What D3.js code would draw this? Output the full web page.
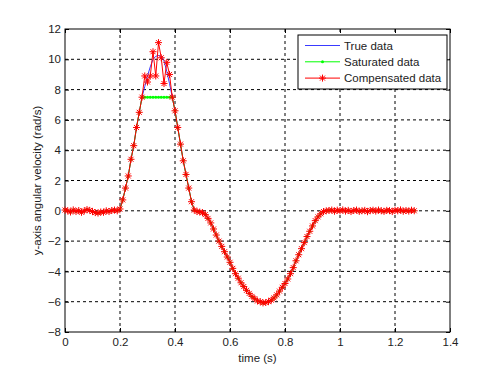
<!DOCTYPE html>
<html>
<head>
<meta charset="utf-8">
<script src="https://cdn.jsdelivr.net/npm/d3@7"></script>
<style>
  body { margin: 0; background: #fff; }
  svg { font-family: "Liberation Sans", Arial, sans-serif; }
  .axis text { font-size: 11.5px; fill: #222; }
  .axis line { stroke: #000; }
</style>
</head>
<body>
<svg id="chart"></svg>
<script>
// sampling: t = t0 + i * dt
const t0 = 0;
const dt = 0.01;

// measured (true) angular velocity, rad/s
const trueVals = [
  0.05, 0.00, -0.08, 0.06, -0.05, 0.02, -0.10, 0.00, 0.08, 0.03,
  -0.05, -0.12, -0.15, -0.08, -0.10, 0.00, -0.05, 0.02, 0.05, 0.00,
  0.12, 0.72, 1.50, 2.30, 3.40, 4.30, 5.50, 6.50, 7.50, 8.20,
  8.90, 9.50, 10.00, 10.20, 10.25, 10.20, 9.90, 9.20, 8.40, 7.50,
  6.60, 5.50, 4.40, 3.30, 2.40, 1.50, 0.60, 0.05, -0.05, -0.08,
  -0.12, -0.25, -0.50, -0.80, -1.20, -1.60, -2.00, -2.35, -2.70, -3.05,
  -3.40, -3.80, -4.15, -4.45, -4.75, -5.00, -5.25, -5.45, -5.65, -5.80,
  -5.95, -6.00, -6.08, -6.05, -6.00, -5.90, -5.75, -5.55, -5.30, -5.05,
  -4.80, -4.50, -4.15, -3.75, -3.30, -2.90, -2.50, -2.10, -1.70, -1.35,
  -1.00, -0.65, -0.40, -0.20, -0.05, 0.00, 0.02, 0.05, -0.03, 0.04,
  0.00, 0.06, -0.02, 0.03, -0.05, 0.02, 0.05, -0.04, 0.00, 0.03,
  -0.06, 0.02, 0.04, -0.02, 0.05, 0.00, -0.04, 0.03, 0.01, -0.05,
  0.04, 0.00, 0.06, -0.03, 0.02, -0.02, 0.04, 0.00
];

// indices of the saturated stretch
const peakStart = 28;
const satPeak  = [7.5, 7.5, 7.5, 7.5, 7.5, 7.5, 7.5, 7.5, 7.5, 7.5, 7.5, 7.5];
const compPeak = [7.5, 8.9, 8.5, 8.9, 10.5, 8.9, 11.1, 10.1, 8.4, 9.8, 9.0, 7.5];

const xTicks = [0, 0.2, 0.4, 0.6, 0.8, 1, 1.2, 1.4];
const yTicks = [-8, -6, -4, -2, 0, 2, 4, 6, 8, 10, 12];

const legendNames = ['True data', 'Saturated data', 'Compensated data'];
const colors = ['#3a3aff', '#00ff00', '#ff0000'];

const width = 498;
const height = 374;
const margin = { left: 65, right: 48, top: 29, bottom: 42 };
const innerWidth = width - margin.left - margin.right;
const innerHeight = height - margin.top - margin.bottom;

function withPeak(peak) {
  return trueVals.map(function(v, i) {
    const k = i - peakStart;
    return (k >= 0 && k < peak.length) ? peak[k] : v;
  });
}

const series = [trueVals, withPeak(satPeak), withPeak(compPeak)].map(function(vals) {
  return vals.map(function(v, i) { return { t: t0 + i * dt, v: v }; });
});

const svg = d3.select('#chart')
  .attr('width', width)
  .attr('height', height);

const g = svg.append('g')
  .attr('transform', 'translate(' + margin.left + ',' + margin.top + ')');

const x = d3.scaleLinear().domain([0, 1.4]).range([0, innerWidth]);
const y = d3.scaleLinear().domain([-8, 12]).range([innerHeight, 0]);

// grid
const grid = g.append('g').attr('class', 'grid');
grid.selectAll('line.gx')
  .data(xTicks.slice(1, -1))
  .enter().append('line')
  .attr('x1', function(d) { return x(d); })
  .attr('x2', function(d) { return x(d); })
  .attr('y1', 0).attr('y2', innerHeight)
  .attr('stroke', '#000').attr('stroke-dasharray', '3,3');
grid.selectAll('line.gy')
  .data(yTicks.slice(1, -1))
  .enter().append('line')
  .attr('y1', function(d) { return y(d); })
  .attr('y2', function(d) { return y(d); })
  .attr('x1', 0).attr('x2', innerWidth)
  .attr('stroke', '#000').attr('stroke-dasharray', '3,3');

// axes (ticks inward, like matlab)
g.append('g').attr('class', 'axis')
  .attr('transform', 'translate(0,' + innerHeight + ')')
  .call(d3.axisBottom(x).tickValues(xTicks).tickSizeInner(-4).tickSizeOuter(0).tickPadding(6)
    .tickFormat(d3.format('~g')));
g.append('g').attr('class', 'axis')
  .call(d3.axisTop(x).tickValues(xTicks).tickSizeInner(-4).tickSizeOuter(0).tickFormat(''));
g.append('g').attr('class', 'axis')
  .call(d3.axisLeft(y).tickValues(yTicks).tickSizeInner(-4).tickSizeOuter(0).tickPadding(4)
    .tickFormat(d3.format('~g')));
g.append('g').attr('class', 'axis')
  .attr('transform', 'translate(' + innerWidth + ',0)')
  .call(d3.axisRight(y).tickValues(yTicks).tickSizeInner(-4).tickSizeOuter(0).tickFormat(''));
g.selectAll('.axis .domain').remove();

g.append('rect')
  .attr('width', innerWidth).attr('height', innerHeight)
  .attr('fill', 'none').attr('stroke', '#000').attr('stroke-width', 1);

// lines
const line = d3.line()
  .x(function(d) { return x(d.t); })
  .y(function(d) { return y(d.v); });

const starPath = 'M-3.5,0H3.5M0,-3.5V3.5M-2.5,-2.5L2.5,2.5M-2.5,2.5L2.5,-2.5';

// true data
g.append('path').datum(series[0])
  .attr('d', line).attr('fill', 'none')
  .attr('stroke', colors[0]).attr('stroke-width', 1);

// saturated data
g.append('path').datum(series[1])
  .attr('d', line).attr('fill', 'none')
  .attr('stroke', colors[1]).attr('stroke-width', 1);
g.selectAll('circle.sat')
  .data(series[1])
  .enter().append('circle')
  .attr('cx', function(d) { return x(d.t); })
  .attr('cy', function(d) { return y(d.v); })
  .attr('r', 1.5)
  .attr('fill', colors[1]);

// compensated data
g.append('path').datum(series[2])
  .attr('d', line).attr('fill', 'none')
  .attr('stroke', colors[2]).attr('stroke-width', 1);
g.selectAll('path.comp')
  .data(series[2])
  .enter().append('path')
  .attr('transform', function(d) { return 'translate(' + x(d.t) + ',' + y(d.v) + ')'; })
  .attr('d', starPath)
  .attr('stroke', colors[2]).attr('stroke-width', 1).attr('fill', 'none');

// axis labels
svg.append('text')
  .attr('x', margin.left + innerWidth / 2)
  .attr('y', 362)
  .attr('text-anchor', 'middle')
  .style('font-size', '11.5px').style('fill', '#222')
  .text('time (s)');
svg.append('text')
  .attr('transform', 'translate(41,' + (margin.top + innerHeight / 2) + ') rotate(-90)')
  .attr('text-anchor', 'middle')
  .style('font-size', '11.5px').style('fill', '#222')
  .text('y-axis angular velocity (rad/s)');

// legend
const legend = svg.append('g').attr('transform', 'translate(298,35)');
legend.append('rect')
  .attr('width', 149).attr('height', 54)
  .attr('fill', '#fff').attr('stroke', '#000');
const item = legend.selectAll('g.item')
  .data(legendNames)
  .enter().append('g')
  .attr('transform', function(d, i) { return 'translate(0,' + (10.5 + i * 16.3) + ')'; });
item.append('line')
  .attr('x1', 7).attr('x2', 42)
  .attr('stroke', function(d, i) { return colors[i]; });
item.filter(function(d, i) { return i === 1; }).append('circle')
  .attr('cx', 24.5).attr('r', 1.5).attr('fill', colors[1]);
item.filter(function(d, i) { return i === 2; }).append('path')
  .attr('transform', 'translate(24.5,0)')
  .attr('d', starPath).attr('stroke', colors[2]).attr('fill', 'none');
item.append('text')
  .attr('x', 46).attr('dy', '0.35em')
  .style('font-size', '11.5px').style('fill', '#222')
  .text(function(d) { return d; });
</script>
</body>
</html>
